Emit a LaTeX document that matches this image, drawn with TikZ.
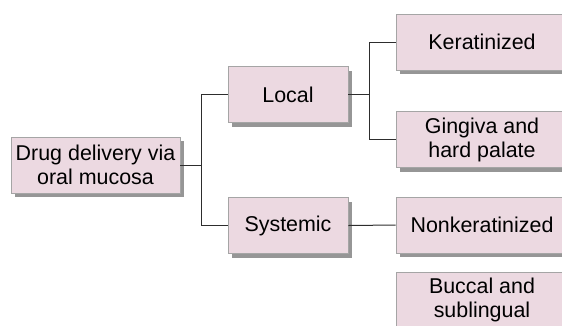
\documentclass[tikz,border=0pt]{standalone}
\usepackage{fontspec}
\setmainfont{Liberation Sans}
\usetikzlibrary{shadows}
\definecolor{boxpink}{RGB}{236,217,225}
\definecolor{boxrim}{RGB}{165,165,165}
\definecolor{shadegray}{RGB}{150,150,150}
\definecolor{wirecol}{RGB}{45,45,45}

\begin{document}
\begin{tikzpicture}[x=1bp, y=-1bp, box/.style={draw=boxrim,fill=boxpink,line width=0.8bp,align=center,inner sep=2pt,font=\fontsize{21.5}{24}\selectfont,minimum height=56bp,drop shadow={shadow xshift=4bp,shadow yshift=-4bp,fill=shadegray,opacity=1}}, mid/.style={box,minimum width=120bp}, leaf/.style={box,minimum width=172bp}, wire/.style={draw=wirecol,line width=1bp}]
\useasboundingbox (0,0) rectangle (562,325);
\clip (0,0) rectangle (562,325);
\node[box,minimum width=169bp] (root) at (95.5,165) {Drug delivery via\\ oral mucosa};
\node[mid] (local) at (288,94.5) {Local};
\node[mid] (sys) at (288,225.5) {Systemic};
\node[leaf] (kera) at (482,42) {Keratinized};
\node[leaf] (ging) at (482,139.5) {Gingiva and\\ hard palate};
\node[leaf] (nonk) at (482,225) {Nonkeratinized};
\node[leaf] (bucc) at (482,300) {Buccal and\\ sublingual};
% first split
\draw[wire] (root.east) -- ++(21,0) coordinate (j1);
\draw[wire] (local.west) -| (j1) |- (sys.west);
% local branch
\draw[wire] (local.east) -- ++(21,0) coordinate (j2);
\draw[wire] (kera.west) -| (j2) |- (ging.west);
% systemic branch
\draw[wire] (sys.east) -- (nonk.west);
\end{tikzpicture}
\end{document}
